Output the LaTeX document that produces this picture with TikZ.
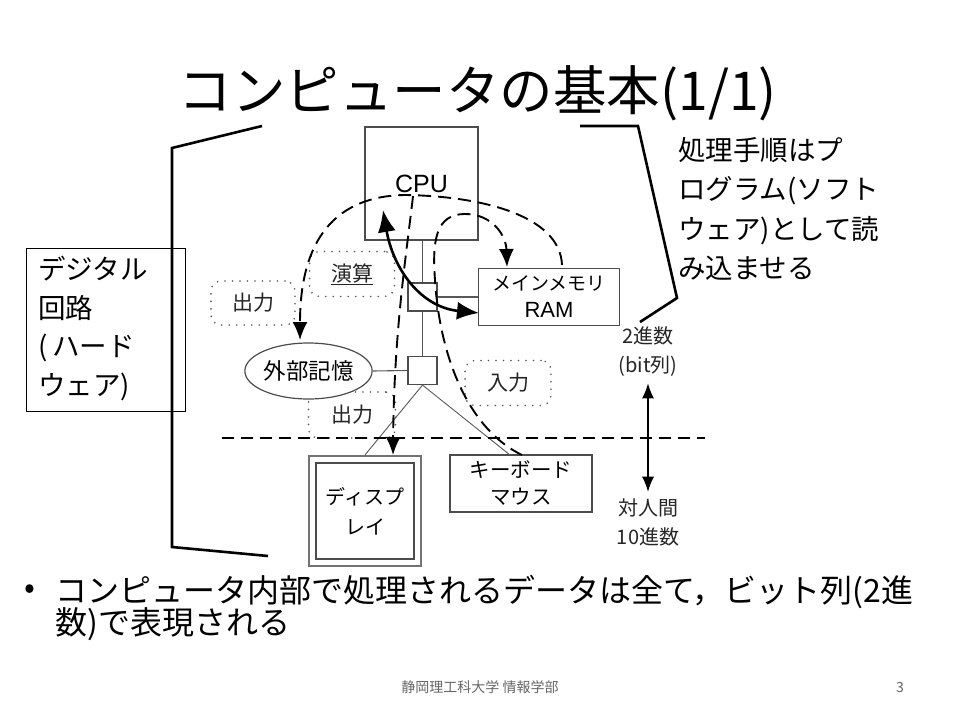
\documentclass[tikz,border=0pt]{standalone}
\usepackage{fontspec}
\setmainfont{Noto Sans CJK JP}
\newfontfamily\lat{Liberation Sans}
\usetikzlibrary{arrows.meta,shapes.geometric,calc}
\begin{document}
\begin{tikzpicture}[x=1pt,y=-1pt,
  box/.style={draw=black!70,line width=1.2pt,inner sep=0pt,align=center},
  bus/.style={draw=black!65,line width=1.1pt},
  bracket/.style={line width=2.6pt,black},
  dline/.style={line width=1.9pt,dash pattern=on 13pt off 7pt},
  cloud/.style={draw=black!65,line width=1.8pt,dash pattern=on 0pt off 7.5pt,line cap=round,rounded corners=10pt,inner sep=0pt},
  dtip/.style={-{Latex[length=18pt,width=15pt]}},
  lbl/.style={font=\fontsize{21}{26}\selectfont,text=black!85},
  side/.style={font=\fontsize{27.5}{39.5}\selectfont,align=left,inner sep=0pt},
  small/.style={font=\fontsize{20}{29}\selectfont,align=center,text=black!85}
]
\useasboundingbox[fill=white] (0,0) rectangle (960,720);

% title
\node[font=\fontsize{53.5}{60}\selectfont] (title) at (478,93) {コンピュータの基本(1/1)};

% brackets
\draw[bracket] (262,126) -- (172,148) -- (172,547) -- (268,556);
\draw[bracket] (580,126) -- (638,126) -- (677,298) -- (640,322);

% left box
\node[draw=black,line width=1pt,minimum width=159,minimum height=163,anchor=north west,inner sep=0pt] (hwbox) at (26,248) {};
\node[side,anchor=north west,font=\fontsize{27.5}{38.5}\selectfont] (hw) at (38,256) {デジタル\\回路\\(\hspace{5pt}ハード\\ウェア)};

% right text
\node[side,anchor=north west] (sw) at (678,137) {処理手順はプ\\ログラム(ソフト\\ウェア)として読\\み込ませる};

% clouds
\node[cloud,minimum width=85,minimum height=45,lbl] (calc) at (352,274) {\underline{演算}};
\node[cloud,minimum width=84,minimum height=44,lbl] (out1) at (253,303) {出力};
\node[cloud,minimum width=87,minimum height=46,lbl] (out2) at (352,415) {出力};
\node[cloud,minimum width=86,minimum height=45,lbl] (in1) at (508,383) {入力};

% main blocks
\node[box,minimum width=113,minimum height=113,font=\lat\fontsize{25}{28}\selectfont] (cpu) at (421.5,183.5) {CPU};
\node[box,minimum width=29,minimum height=28,fill=white] (b1) at (422.5,297) {};
\node[box,minimum width=29,minimum height=28,fill=white] (b2) at (422.5,370.5) {};
\node[box,minimum width=141,minimum height=57,fill=white,font=\fontsize{19}{27}\selectfont] (ram) at (549,297) {メインメモリ\\{\lat\fontsize{22}{26}\selectfont RAM}};
\node[draw=black!70,line width=1.2pt,ellipse,minimum width=113,minimum height=56,inner sep=0pt,fill=white,font=\fontsize{22.5}{26}\selectfont] (ext) at (308.5,371) {外部記憶};
\node[draw=black!55,line width=2.2pt,minimum width=112,minimum height=110,inner sep=0pt] (disp) at (365,511) {};
\node[box,minimum width=98,minimum height=96,font=\fontsize{20}{30}\selectfont] (dispin) at (365,511) {ディスプ\\レイ};
\node[box,minimum width=142,minimum height=57,font=\fontsize{20.5}{27}\selectfont] (kbd) at (521,483.5) {キーボード\\マウス};

% bus connections
\draw[bus] (cpu.south -| b1) -- (b1.north);
\draw[bus] (b1.south) -- (b2.north);
\draw[bus] (b1.east) -- (b1.east -| ram.west);
\draw[bus] (ext.east) -- (b2.west);
\coordinate (kt) at (510,455);
\draw[bus,line width=0.9pt] (b2.south) -- (disp.north);
\draw[bus,line width=0.9pt] (b2.south) -- (kt);

% boundary dashed line
\coordinate (hl) at (222,438);
\coordinate (hr) at (705,438);
\draw[line width=1.3pt,dash pattern=on 12pt off 7pt] (hl) -- (hr);

% dashed flows
\coordinate (aS) at (562,265);
\coordinate (aT) at (300,340);
\draw[dline,dtip] (aS) .. controls (560,215) and (480,196) .. (405,195) .. controls (335,196) and (300,240) .. (aT);
\coordinate (cS) at (413,196);
\coordinate (cT) at (393,455);
\draw[dline,dtip] (cS) .. controls (407,250) and (394,330) .. (cT);
\coordinate (kS) at (522,455);
\coordinate (rT) at (507,267);
\draw[dline,dtip] (kS) .. controls (470,430) and (440,360) .. (435,280) .. controls (432,240) and (436,214) .. (465,214) .. controls (492,214) and (506,235) .. (rT);

% thick CPU <-> RAM arrow
\coordinate (cpuA) at (383,210);
\coordinate (ramA) at (479,313);
\draw[line width=2.6pt,{Latex[length=22pt,width=18pt]}-{Latex[length=22pt,width=18pt]}] (cpuA) .. controls (393,268) and (420,307) .. (ramA);

% binary / decimal labels
\node[small] (bin) at (648,352) {2進数\\(bit列)};
\node[small] (dec) at (648,522) {対人間\\10進数};
\draw[line width=1.2pt,{Latex[length=15pt,width=12pt]}-{Latex[length=15pt,width=12pt]}] ($(bin.south)+(0,3)$) -- ($(dec.north)+(0,-3)$);

% bullet
\node[font=\fontsize{32}{34}\selectfont] (bul) at (30,592) {•};
\node[font=\fontsize{32}{34}\selectfont,anchor=west,inner sep=0pt] (l1) at (55,592) {コンピュータ内部で処理されるデータは全て，ビット列(2進};
\node[font=\fontsize{32}{34}\selectfont,anchor=west,inner sep=0pt] (l2) at (55,624) {数)で表現される};

% footer
\node[font=\fontsize{14}{16}\selectfont,text=black!60] (foot) at (480,687) {静岡理工科大学 情報学部};
\node[font=\fontsize{14}{16}\selectfont,text=black!60] (pg) at (900,687) {3};
\end{tikzpicture}
\end{document}
